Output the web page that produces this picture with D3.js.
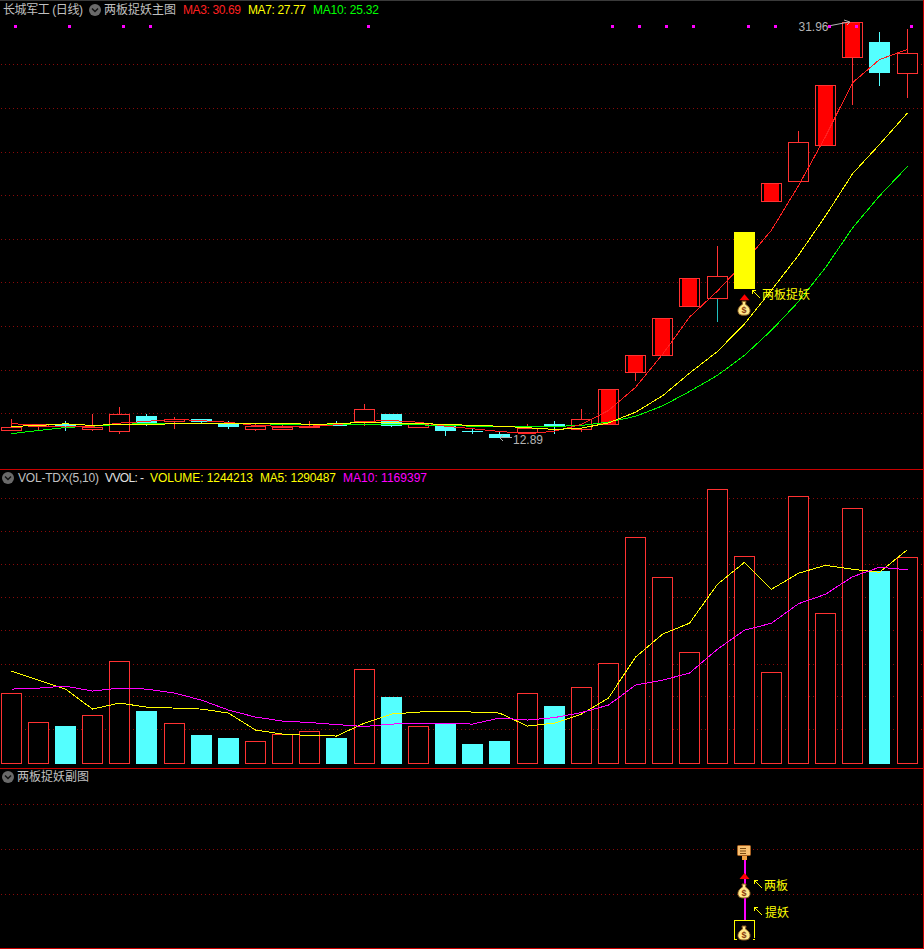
<!DOCTYPE html>
<html><head><meta charset="utf-8">
<script src="https://cdn.jsdelivr.net/npm/d3@7/dist/d3.min.js"></script>
<style>html,body{margin:0;padding:0;background:#000;overflow:hidden}svg{display:block}
text{font-family:"Liberation Sans","Noto Sans CJK SC",sans-serif;font-size:12px}</style>
</head><body><svg id="c" width="924" height="949"></svg>
<script>
const opens  = [13.23,13.44,13.51,13.26,13.21,13.86,13.65,13.72,13.49,13.26,13.26,13.35,13.53,13.63,13.95,13.35,13.44,13.17,13.07,13.12,13.49,13.30,13.53,15.88,16.66,18.91,19.28,19.69,23.74,24.66,26.31,30.35,31.04,29.62];
const closes = [13.35,13.53,13.37,13.35,13.95,13.53,13.76,13.58,13.35,13.40,13.37,13.44,13.44,14.18,13.40,13.49,13.17,13.12,12.89,13.33,13.44,13.76,15.12,16.66,18.36,20.20,20.29,22.31,24.56,26.45,29.07,31.96,29.62,30.54];
const highs  = [13.72,13.53,13.63,13.95,14.31,13.95,13.81,13.76,13.63,13.49,13.49,13.63,13.63,14.41,13.95,13.58,13.53,13.26,13.17,13.53,13.63,14.18,15.12,16.66,18.36,20.20,21.67,22.31,24.56,26.95,29.07,31.96,31.50,31.64];
const lows   = [13.21,13.17,13.21,13.21,13.03,13.44,13.30,13.49,13.26,13.21,13.23,13.35,13.40,13.44,13.35,13.35,12.94,13.03,12.89,13.07,13.07,13.12,13.53,15.46,16.66,18.91,18.18,19.69,23.74,24.66,26.31,28.15,29.02,28.47];
const ma3  = [13.53,13.44,13.37,13.41,13.55,13.63,13.73,13.66,13.59,13.44,13.40,13.41,13.47,13.63,13.67,13.59,13.41,13.29,13.17,13.06,13.18,13.49,14.13,15.19,16.70,18.41,19.61,20.93,22.40,24.44,26.69,29.16,30.22,30.69];
const ma7  = [13.40,13.44,13.52,13.44,13.50,13.47,13.53,13.53,13.53,13.55,13.55,13.49,13.52,13.59,13.57,13.52,13.50,13.44,13.41,13.34,13.26,13.32,13.56,14.05,14.80,15.84,16.84,18.10,19.65,21.25,23.05,24.98,26.33,27.77];
const ma10 = [13.07,13.21,13.35,13.41,13.49,13.53,13.55,13.53,13.52,13.52,13.50,13.50,13.50,13.50,13.50,13.47,13.44,13.41,13.38,13.38,13.40,13.44,13.60,13.86,14.34,15.00,15.74,16.66,17.81,19.12,20.68,22.50,23.97,25.32];
const volumes = [426781,252462,228418,294539,619133,318583,246451,174319,156286,138253,180330,198363,156286,571045,402737,228418,240440,120220,138253,426781,348638,462847,607111,1364497,1124057,673232,1653025,1250288,553012,1610948,907661,1538816,1160123,1244213];
const volMa5  = [559023,504924,450825,330605,366671,342627,336616,330605,306561,204374,180330,171314,168308,246451,300550,312572,318583,312572,306561,228418,246451,300550,396726,643177,781430,847551,1081980,1214222,1051925,1148101,1196189,1172145,1154112,1290487];
const volMa10 = [450825,456836,468858,438803,456836,450825,426781,384704,324594,282517,258473,249457,237435,225413,240440,243446,243446,240440,276506,264484,279512,309567,354649,474869,504924,547001,691265,805474,847551,964766,1021870,1127063,1184167,1169397];
const limitUpDays = [22,23,24,25,28,30,31];
const signalDay = 27;
const markerDays = [0,2,4,5,13,22,23,24,25,27,28,30,31,33];
const priceTicks = [30,28,26,24,22,20,18,16,14];
const volTicks = [210665,409292,601900,806546,1005173,1203800,1402427,1601054];
const subTicks = [3,2,1];
const headerMain = ["长城军工 (日线)","两板捉妖主图","MA3: 30.69","MA7: 27.77","MA10: 25.32"];
const headerVol = ["VOL-TDX(5,10)","VVOL: -","VOLUME: 1244213","MA5: 1290487","MA10: 1169397"];
const headerSub = ["两板捉妖副图"];

const RED="#ff3232",CYAN="#54ffff",YEL="#ffff00",GRID="#8a0a0a",LINE="#c80000";
const svg=d3.select("#c");
svg.append("rect").attr("width",924).attr("height",949).attr("fill","#000");
const N=closes.length;
const x=d3.scaleLinear().domain([0,N-1]).range([11.2,907.1]);
const X=i=>Math.floor(x(i));
const yP=d3.scaleLinear().domain([30,14]).range([64.4,413.3]);
const yV=d3.scaleLinear().domain([0,1244213]).range([764,557.3]);
const yS=d3.scaleLinear().domain([3,1]).range([804,894]);
const px=v=>Math.round(v)+.5;

// frame lines
const hl=(y,c)=>svg.append("line").attr("x1",0).attr("x2",924).attr("y1",y).attr("y2",y).attr("stroke",c);
hl(.5,"#3a3a3a");hl(469.5,LINE);hl(768.5,LINE);hl(948.5,LINE);
svg.append("line").attr("x1",923.5).attr("x2",923.5).attr("y1",0).attr("y2",949).attr("stroke",LINE);

// grids
function grid(vals,sc){svg.append("g").selectAll("line").data(vals).join("line")
 .attr("x1",1).attr("x2",923).attr("y1",d=>px(sc(d))).attr("y2",d=>px(sc(d)))
 .attr("stroke",GRID).attr("stroke-dasharray","1 3");}
grid(priceTicks,yP);grid(volTicks,yV);grid(subTicks,yS);

// candles
const idx=d3.range(N);
const isUp=i=>closes[i]>=opens[i];
const gC=svg.append("g").attr("shape-rendering","crispEdges");
function candle(g,i){
 const cx=X(i),t=yP(Math.max(opens[i],closes[i])),b=yP(Math.min(opens[i],closes[i]));
 const T=Math.round(t),B=Math.round(b),H=Math.round(yP(highs[i])),L=Math.round(yP(lows[i]));
 const up=isUp(i);
 if(i===signalDay){g.append("rect").attr("x",cx-10).attr("y",T).attr("width",21).attr("height",B-T).attr("fill",YEL);return;}
 const wick=up?RED:CYAN;
 if(H<T)g.append("line").attr("x1",cx+.5).attr("x2",cx+.5).attr("y1",H).attr("y2",T).attr("stroke",wick);
 if(L>B)g.append("line").attr("x1",cx+.5).attr("x2",cx+.5).attr("y1",B).attr("y2",L).attr("stroke",i===26?"#20c0c0":wick);
 if(up){
  g.append("rect").attr("x",cx-10+.5).attr("y",T+.5).attr("width",20).attr("height",Math.max(B-T,1)).attr("fill","#000").attr("stroke",RED);
  if(limitUpDays.includes(i))g.append("rect").attr("x",cx-7).attr("y",T+1).attr("width",15).attr("height",Math.max(B-T-1,1)).attr("fill","#ff0000");
 } else {
  g.append("rect").attr("x",cx-10).attr("y",T).attr("width",21).attr("height",Math.max(B-T,1)).attr("fill",CYAN);
 }
}
idx.filter(i=>i!==signalDay).forEach(i=>candle(gC,i));

// moving averages
const lineOf=(sc,arr)=>d3.line().x((d,i)=>X(i)+.5).y(d=>sc(d))(arr);
function path(sc,arr,c){svg.append("path").attr("d",lineOf(sc,arr)).attr("fill","none").attr("stroke",c).attr("shape-rendering","crispEdges");}
path(yP,ma10,"#00ff00");path(yP,ma3,"#ff2020");path(yP,ma7,YEL);

// signal candle above the lines
candle(svg.append("g").attr("shape-rendering","crispEdges"),signalDay);

// top markers
svg.append("g").attr("shape-rendering","crispEdges").selectAll("rect").data(markerDays).join("rect")
 .attr("x",d=>X(d)+3).attr("y",25).attr("width",3).attr("height",3).attr("fill","#ff00ff");

// high / low labels
function arrowNote(txt,tx,ty,x1,y1,x2,y2){
 svg.append("text").attr("x",tx).attr("y",ty).attr("fill","#b4b4b4").attr("textLength",30).text(txt);
 svg.append("path").attr("d",`M${x1},${y1}L${x2},${y2}`).attr("stroke","#b4b4b4").attr("fill","none");
}
arrowNote("31.96",798.5,31,831,25.5,849,22);
svg.append("path").attr("d",`M844,20L850,22L847,25`).attr("stroke","#b4b4b4").attr("fill","none");
arrowNote("12.89",513,444,500,437.5,512,437.5);
svg.append("path").attr("d",`M503,435L500,438L503,441`).attr("stroke","#b4b4b4").attr("fill","none");

// icons
function bag(px0,py0){
 const g=svg.append("g").attr("transform",`translate(${px0},${py0})`);
 g.append("path").attr("d","M-2,-7L2,-7L1.5,-4C5,-2 6.5,1 6,3.5C5.5,6.5 3,7 0,7C-3,7 -5.5,6.5 -6,3.5C-6.5,1 -5,-2 -1.5,-4Z")
  .attr("fill","#ffe98a").attr("stroke","#8a5a20");
 g.append("text").attr("x",0).attr("y",5).attr("text-anchor","middle").attr("fill","#8a3a10").style("font-size","9px").style("font-weight","bold").text("$");
}
function tip(px0,py0){svg.append("path").attr("d",`M${px0},${py0}l-5,6h10z`).attr("fill","#ff0000");}
function nw(px0,py0){svg.append("path").attr("d",`M${px0+8},${py0+8}L${px0},${py0}M${px0},${py0+4}L${px0},${py0}L${px0+4},${py0}`).attr("stroke",YEL).attr("fill","none").attr("shape-rendering","crispEdges");}
function note(t,tx,ty){svg.append("text").attr("x",tx).attr("y",ty).attr("fill",YEL).text(t);}

const sx=X(signalDay);
const mainBase=yP(lows[signalDay]);
tip(sx+.5,mainBase+5);bag(sx,mainBase+19);
nw(sx+8,mainBase+1);note("两板捉妖",sx+18,mainBase+10);

// volume
const gV=svg.append("g").attr("shape-rendering","crispEdges");
idx.forEach(i=>{
 const cx=X(i),T=Math.round(yV(volumes[i])),B=764;
 if(isUp(i))gV.append("rect").attr("x",cx-10+.5).attr("y",T+.5).attr("width",20).attr("height",B-T-1).attr("fill","#000").attr("stroke",RED);
 else gV.append("rect").attr("x",cx-10).attr("y",T).attr("width",21).attr("height",B-T).attr("fill",CYAN);
});
path(yV,volMa5,YEL);path(yV,volMa10,"#ff00ff");

// sub panel
svg.append("line").attr("x1",sx+.5).attr("x2",sx+.5).attr("y1",yS(2)+11).attr("y2",yS(0.39)).attr("stroke","#ff00ff").attr("stroke-width",2).attr("shape-rendering","crispEdges");
tip(sx+.5,yS(1)-21);bag(sx,yS(1)-3);
svg.append("path").attr("d",`M${sx-9.5},${yS(0)-1.5}v1.5h2M${sx-9.5},${yS(0)-1}V${yS(0)-18.5}H${sx+10.5}V${yS(0)-1}M${sx+10.5},${yS(0)}h-2`).attr("fill","none").attr("stroke",YEL).attr("shape-rendering","crispEdges");
bag(sx,yS(0)-6);
const sg=svg.append("g").attr("transform",`translate(${sx},${yS(2)+3})`);
sg.append("rect").attr("x",-2).attr("y",4).attr("width",5).attr("height",4).attr("fill","#f0a040");
sg.append("rect").attr("x",-6.5).attr("y",-6.5).attr("width",13).attr("height",10).attr("rx",1).attr("fill","#f8c070").attr("stroke","#a86020");
sg.append("path").attr("d","M-4,-3.5h6M-4,-1h6M-4,1.5h6").attr("stroke","#7a4a10").attr("fill","none");
nw(sx+10,yS(1)-14);note("两板",sx+20,yS(1)-4);
nw(sx+10,yS(1)+13);note("提妖",sx+21,yS(1)+23);

// headers
function chevron(cx,cy){
 svg.append("circle").attr("cx",cx).attr("cy",cy).attr("r",6).attr("fill","#6a6a6a");
 svg.append("path").attr("d",`M${cx-3},${cy-1.5}L${cx},${cy+1.5}L${cx+3},${cy-1.5}`).attr("stroke","#111").attr("stroke-width",1.5).attr("fill","none");
}
function header(list,y,xs,ws,cs){svg.append("g").selectAll("text").data(list).join("text")
 .attr("x",(d,i)=>xs[i]).attr("y",y).attr("fill",(d,i)=>cs[i]).attr("textLength",(d,i)=>ws[i]).attr("lengthAdjust","spacing").text(d=>d);}
chevron(95,10);header(headerMain,14,[3,104,183,248,313],[80,72,58,58,66],["#c0c0c0","#c0c0c0","#ff2020",YEL,"#00ff00"]);
chevron(8,478);header(headerVol,482,[18,105,150,260,343],[81,39,103,76,84],["#c0c0c0","#e0e0e0",YEL,YEL,"#ff00ff"]);
chevron(8,777);header(headerSub,781,[17],[72],["#c0c0c0"]);
</script></body></html>
